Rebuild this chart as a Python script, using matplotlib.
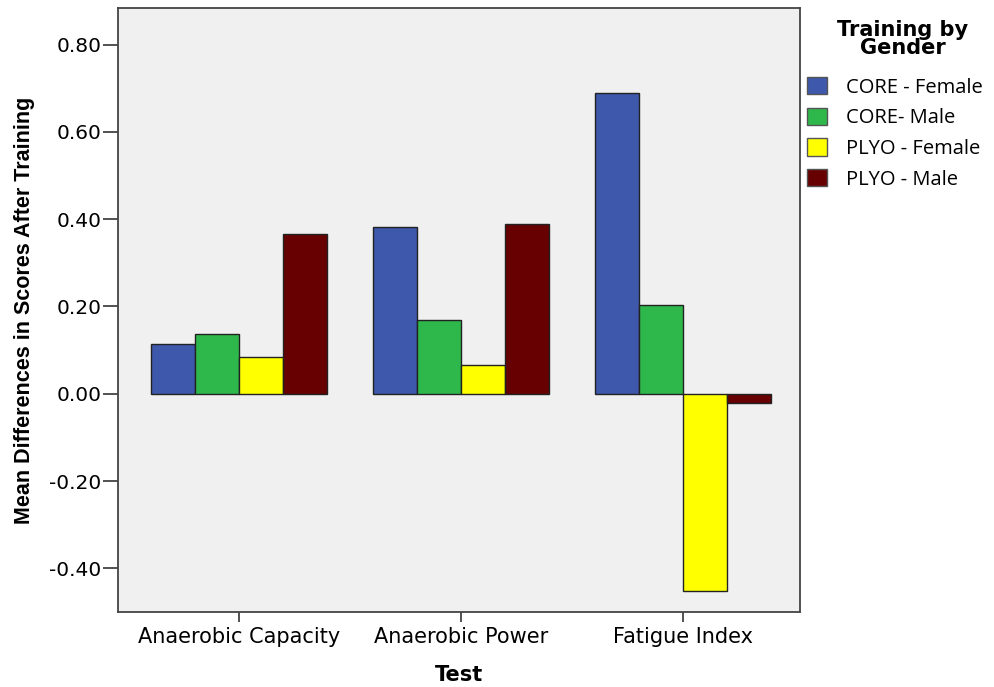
import matplotlib.pyplot as plt
import numpy as np

# Data
tests = ['Anaerobic Capacity', 'Anaerobic Power', 'Fatigue Index']
groups = ['CORE - Female', 'CORE- Male', 'PLYO - Female', 'PLYO - Male']
core_female = [0.115, 0.383, 0.690]
core_male = [0.137, 0.170, 0.204]
plyo_female = [0.085, 0.066, -0.451]
plyo_male = [0.367, 0.389, -0.021]
colors = ['#3e58ac', '#2eb84b', '#ffff00', '#670000']

series = [core_female, core_male, plyo_female, plyo_male]
yticks = [-0.4, -0.2, 0.0, 0.2, 0.4, 0.6, 0.8]

fig = plt.figure(figsize=(9.94, 6.87), dpi=100)
ax = fig.add_axes([0.1187, 0.1092, 0.6861, 0.8792])
ax.set_facecolor('#f0f0f0')

index = np.arange(len(tests))
bar_width = 0.198
for i, (vals, name, col) in enumerate(zip(series, groups, colors)):
    offset = (i - 1.5) * bar_width
    ax.bar(index + offset, vals, bar_width, color=col, edgecolor='#222222',
           linewidth=1.0, label=name, zorder=2)

ax.set_xlim(-0.545, 2.527)
ax.set_ylim(-0.50, 0.884)
ax.set_yticks(yticks)
ax.set_yticklabels(['%.2f' % v for v in yticks], family='DejaVu Sans', fontsize=14.5)
ax.set_xticks(index)
ax.set_xticklabels(tests, family='DejaVu Sans', fontsize=15)
ax.tick_params(axis='both', direction='out', width=1.2, color='#333333')
ax.tick_params(axis='y', length=11, pad=1)
ax.tick_params(axis='x', length=7, pad=4)
for s in ax.spines.values():
    s.set_color('#444444')
    s.set_linewidth(1.3)

ax.set_xlabel('Test', family='DejaVu Sans', fontweight='bold', fontsize=15, labelpad=13)
ax.set_ylabel('Mean Differences in Scores After Training', family='Liberation Sans',
              fontweight='bold', fontsize=15.5, labelpad=10)

# legend title drawn separately, centred like the original
fig.text(903 / 994, 1 - 39 / 687, 'Training by\nGender', ha='center', va='center',
         family='DejaVu Sans', fontweight='bold', fontsize=15, linespacing=0.85)
leg = fig.legend(loc='upper left', bbox_to_anchor=(807 / 994, 1 - 77 / 687), frameon=False,
                 prop={'family': 'Open Sans', 'size': 14.5}, borderpad=0, borderaxespad=0,
                 handlelength=1.0, handleheight=0.95, handletextpad=0.95, labelspacing=0.5)
for p in leg.get_patches():
    p.set_edgecolor('#555555')

plt.savefig('out.png', dpi=100)
